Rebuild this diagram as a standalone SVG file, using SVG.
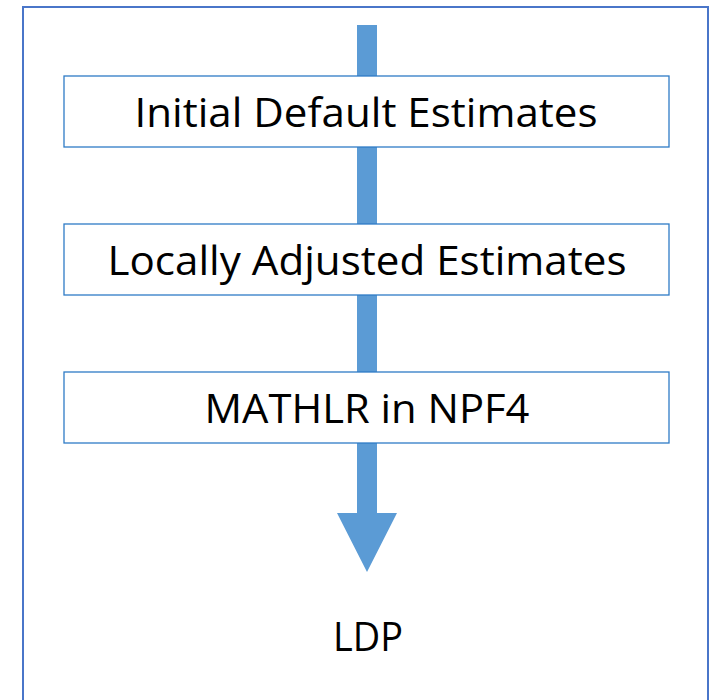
<svg xmlns="http://www.w3.org/2000/svg" width="712" height="700" viewBox="0 0 712 700">
<style>
.frame{fill:#fff;stroke:#4A76C9;stroke-width:2}
.box{fill:#fff;stroke:#2E7BC6;stroke-width:1.3}
.lbl{font-family:"Open Sans","Liberation Sans",sans-serif;font-size:41px;fill:#000;text-anchor:middle}
.arrow{fill:#5B9BD5}
</style>
<rect class="frame" x="23" y="7" width="685" height="700"/>
<g id="connectors">
<polygon class="arrow" points="357,25 377,25 377,513 397,513 367,572 337,513 357,513"/>
</g>
<g id="n1">
<rect class="box" x="64" y="76" width="605" height="71"/>
<text class="lbl" x="366" y="127" textLength="463" lengthAdjust="spacingAndGlyphs">Initial Default Estimates</text>
</g>
<g id="n2">
<rect class="box" x="64" y="224" width="605" height="71"/>
<text class="lbl" x="367" y="275" textLength="519" lengthAdjust="spacingAndGlyphs">Locally Adjusted Estimates</text>
</g>
<g id="n3">
<rect class="box" x="64" y="372" width="605" height="71"/>
<text class="lbl" x="367" y="423" textLength="325" lengthAdjust="spacingAndGlyphs">MATHLR in NPF4</text>
</g>
<g id="n4">
<text class="lbl" x="368" y="651" textLength="70" lengthAdjust="spacingAndGlyphs">LDP</text>
</g>
</svg>
